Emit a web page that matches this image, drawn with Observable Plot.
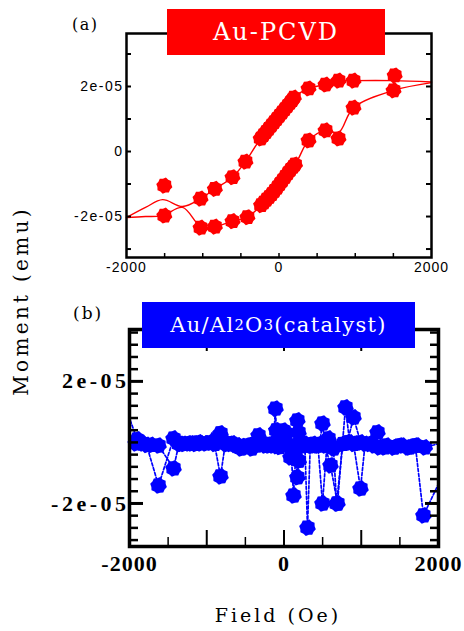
<!DOCTYPE html>
<html><head><meta charset="utf-8">
<script src="https://cdn.jsdelivr.net/npm/d3@7"></script>
<script src="https://cdn.jsdelivr.net/npm/@observablehq/plot@0.6"></script>
<style>
body{margin:0;background:#fff;}
#root{position:relative;width:464px;height:631px;overflow:hidden;background:#fff;}
#root svg{position:absolute;left:0;background:transparent;}
.t{position:absolute;white-space:nowrap;line-height:1;font-family:"DejaVu Serif",serif;color:#000;}
.banner{position:absolute;display:flex;align-items:center;justify-content:center;color:#fff;font-family:"DejaVu Serif",serif;white-space:nowrap;line-height:1;}
#pa g[aria-label="y-axis tick label"] text{letter-spacing:1.5px;}
#pa g[aria-label="x-axis tick label"] text{letter-spacing:1px;}
#pb g[aria-label="y-axis tick label"] text{letter-spacing:3.5px;}
#pb g[aria-label="x-axis tick label"] text{letter-spacing:1px;}
</style></head><body><div id="root"></div>
<script>
// ---------- Panel (a): Au-PCVD ----------
const aUpField  = [1517, 977, 780, 610, 387, 195, 175, 145, 110, 75, 40, 5, -30, -65, -100, -135, -170, -205, -240, -440, -610, -841, -1029, -1504];
const aUpMoment = [2.34e-5, 2.18e-5, 2.18e-5, 2.06e-5, 1.94e-5, 1.66e-5, 1.58e-5, 1.50e-5, 1.40e-5, 1.30e-5, 1.20e-5, 1.10e-5, 1.00e-5, 0.90e-5, 0.80e-5, 0.70e-5, 0.60e-5, 0.50e-5, 0.40e-5, -0.31e-5, -0.79e-5, -1.15e-5, -1.45e-5, -1.05e-5];
const aLowField  = [-1504, -1029, -841, -610, -414, -235, -200, -165, -130, -95, -60, -25, 10, 45, 80, 115, 150, 185, 210, 387, 610, 780, 977, 1502];
const aLowMoment = [-1.97e-5, -2.34e-5, -2.31e-5, -2.14e-5, -2.02e-5, -1.65e-5, -1.57e-5, -1.48e-5, -1.40e-5, -1.31e-5, -1.21e-5, -1.11e-5, -1.00e-5, -0.89e-5, -0.78e-5, -0.67e-5, -0.56e-5, -0.47e-5, -0.40e-5, 0.34e-5, 0.65e-5, 0.40e-5, 1.35e-5, 1.88e-5];
// fitted curves
const aFitUpField  = [2000, 1500, 977, 780, 610, 387, 195, -240, -440, -610, -841, -1029, -1265, -1527, -1750, -2000];
const aFitUpMoment = [2.14e-5, 2.18e-5, 2.18e-5, 2.17e-5, 2.06e-5, 1.94e-5, 1.66e-5, 0.40e-5, -0.31e-5, -0.79e-5, -1.15e-5, -1.45e-5, -1.69e-5, -1.48e-5, -1.72e-5, -2.03e-5];
const aFitLowField  = [-2000, -1750, -1527, -1265, -1029, -841, -610, -414, -235, 210, 387, 610, 780, 977, 1502, 2000];
const aFitLowMoment = [-2.03e-5, -2.0e-5, -1.97e-5, -1.72e-5, -2.30e-5, -2.31e-5, -2.14e-5, -2.02e-5, -1.65e-5, -0.40e-5, 0.34e-5, 0.65e-5, 0.58e-5, 1.35e-5, 1.88e-5, 2.12e-5];
const aXTicks = [-2000, 0, 2000];
const aXLabels = ["-2000", "0", "2000"];
const aXMinor = [-1500, -1000, -500, 0, 500, 1000, 1500];
const aYTicks = [-2e-5, 0, 2e-5];
const aYLabels = ["-2e-05", "0", "2e-05"];
const aYMinor = [-3e-5, -2e-5, -1e-5, 0, 1e-5, 2e-5, 3e-5];

// ---------- Panel (b): Au/Al2O3 (catalyst) ----------
const bS1Field  = [-1990, -1900, -1860, -1780, -1624, -1430, -1340, -1236, -1150, -1080, -1016, -900, -822, -760, -666, -600, -560, -500, -470, -420, -380, -330, -290, -250, -210, -170, -140, -110, -100, -60, -6, 30, 60, 90, 123, 150, 173, 188, 210, 240, 270, 304, 340, 380, 420, 460, 498, 530, 602, 692, 796, 850, 900, 990, 1050, 1210, 1300, 1417, 1500, 1598, 1700, 1805, 1990];
const bS1Moment = [0.72e-5, 0.10e-5, 0.00e-5, -0.08e-5, -1.41e-5, 0.13e-5, -0.05e-5, -0.03e-5, -0.05e-5, -0.03e-5, -0.03e-5, -0.05e-5, -1.11e-5, -0.05e-5, -0.03e-5, -0.10e-5, -0.20e-5, -0.15e-5, -0.10e-5, -0.08e-5, -0.05e-5, 0.23e-5, -0.05e-5, -0.10e-5, -0.08e-5, -0.05e-5, -0.08e-5, 1.11e-5, 0.40e-5, -0.05e-5, 0.39e-5, -0.05e-5, -0.10e-5, -0.15e-5, -1.74e-5, -0.50e-5, 0.72e-5, 0.33e-5, -0.05e-5, -0.10e-5, -0.05e-5, -2.79e-5, -0.10e-5, -0.05e-5, -0.10e-5, -0.05e-5, 0.62e-5, -0.10e-5, -0.75e-5, -2.00e-5, 1.15e-5, 0.00e-5, -0.05e-5, -1.51e-5, -0.05e-5, 0.33e-5, -0.16e-5, -0.16e-5, -0.10e-5, -0.16e-5, -0.10e-5, -2.39e-5, -1.41e-5];
const bS2Field  = [-1990, -1920, -1831, -1720, -1624, -1430, -1360, -1300, -1200, -1100, -960, -880, -822, -740, -700, -640, -600, -540, -500, -420, -360, -300, -240, -200, -150, -100, -60, -20, 30, 84, 130, 173, 190, 230, 280, 330, 380, 440, 498, 560, 576, 640, 681, 760, 820, 900, 992, 1100, 1160, 1230, 1330, 1420, 1530, 1620, 1720, 1822, 1990];
const bS2Moment = [-0.05e-5, -0.03e-5, -0.03e-5, -0.08e-5, -0.10e-5, -0.85e-5, -0.05e-5, -0.05e-5, -0.03e-5, 0.00e-5, 0.00e-5, 0.10e-5, 0.30e-5, -0.05e-5, -0.05e-5, -0.08e-5, -0.10e-5, -0.12e-5, -0.15e-5, -0.20e-5, -0.10e-5, -0.05e-5, -0.08e-5, -0.10e-5, -0.10e-5, -0.12e-5, -0.15e-5, -0.05e-5, 0.30e-5, -0.49e-5, -0.10e-5, -1.14e-5, -0.60e-5, 0.00e-5, -0.10e-5, -0.08e-5, -0.10e-5, -0.10e-5, -2.00e-5, 0.05e-5, 0.13e-5, -0.20e-5, -2.00e-5, -0.05e-5, 0.00e-5, 0.82e-5, 0.00e-5, -0.05e-5, -0.10e-5, -0.16e-5, -0.10e-5, -0.16e-5, -0.10e-5, -0.16e-5, -0.10e-5, -0.16e-5, -0.05e-5];
const bXTicks = [-2000, 0, 2000];
const bXLabels = ["-2000", "0", "2000"];
const bXMajor = [-2000, -1000, 0, 1000, 2000];
const bXMinor = [-1500, -500, 500, 1500];
const bYTicks = [-2e-5, 2e-5];
const bYLabels = ["-2e-05", "2e-05"];
const bYMinor = [-3.2e-5, -2.8e-5, -2.4e-5, -1.6e-5, -1.2e-5, -0.8e-5, -0.4e-5, 0, 0.4e-5, 0.8e-5, 1.2e-5, 1.6e-5, 2.4e-5, 2.8e-5, 3.2e-5, 3.6e-5];

// ---------- helpers ----------
const blob = {draw(ctx, size) {
  const r = Math.sqrt(size / Math.PI), n = 16;
  for (let k = 0; k < n; k++) {
    const a = k * 2 * Math.PI / n + Math.PI / 16, rr = k % 2 ? r * 0.86 : r;
    const px = rr * Math.cos(a), py = rr * Math.sin(a);
    k ? ctx.lineTo(px, py) : ctx.moveTo(px, py);
  }
  ctx.closePath();
}};
const zip = (xs, ys) => xs.map((x, i) => ({x, y: ys[i]}));
const fmt = (ticks, labels) => d => labels[ticks.findIndex(t => Math.abs(t - d) < 1e-12)] ?? "";
// inward-pointing ticks of length len (px), drawn as tick marks inset from the far side of the frame
function inTicks(anchor, ticks, len, sw, W, H) {
  const o = {stroke: "#000", strokeWidth: sw};
  if (anchor === "left") return Plot.tickY(ticks, {...o, y: d => d, insetRight: W - len});
  if (anchor === "right") return Plot.tickY(ticks, {...o, y: d => d, insetLeft: W - len});
  if (anchor === "bottom") return Plot.tickX(ticks, {...o, x: d => d, insetTop: H - len});
  return Plot.tickX(ticks, {...o, x: d => d, insetBottom: H - len});
}

const root = document.getElementById("root");

// ---------- Plot (a) ----------
const RED = "#ff0000";
const A = {width: 464, height: 282, ml: 126, mr: 33, mt: 33, mb: 25};
const AW = A.width - A.ml - A.mr, AH = A.height - A.mt - A.mb;
const pa = Plot.plot({
  width: A.width, height: A.height,
  marginLeft: A.ml, marginRight: A.mr, marginTop: A.mt, marginBottom: A.mb,
  x: {domain: [-2000, 2000]},
  y: {domain: [-3.26e-5, 3.63e-5]},
  style: {fontFamily: "Liberation Sans", fontSize: "14px", color: "#000", background: "transparent", overflow: "visible"},
  marks: [
    Plot.line(zip(aFitUpField, aFitUpMoment), {x: "x", y: "y", stroke: RED, strokeWidth: 1.4, curve: "catmull-rom"}),
    Plot.line(zip(aFitLowField, aFitLowMoment), {x: "x", y: "y", stroke: RED, strokeWidth: 1.4, curve: "catmull-rom"}),
    Plot.dot(zip(aUpField, aUpMoment), {x: "x", y: "y", r: 8.2, symbol: blob, fill: RED}),
    Plot.dot(zip(aLowField, aLowMoment), {x: "x", y: "y", r: 8.2, symbol: blob, fill: RED}),
    inTicks("left", aYMinor, 5, 2, AW, AH),
    inTicks("right", aYMinor, 5, 2, AW, AH),
    inTicks("bottom", aXMinor, 4, 1.5, AW, AH),
    Plot.axisY({anchor: "left", ticks: aYTicks, tickSize: 0, tickPadding: 3, tickFormat: fmt(aYTicks, aYLabels), fontSize: 14, label: null}),
    Plot.axisX({anchor: "bottom", ticks: aXTicks, tickSize: 0, tickPadding: 5, tickFormat: fmt(aXTicks, aXLabels), fontSize: 14, label: null}),
    Plot.frame({stroke: "#000", strokeWidth: 2.5})
  ]
});
pa.id = "pa";
pa.style.top = "0px";
root.appendChild(pa);

// ---------- Plot (b) ----------
const BLUE = "#0000ff";
const B = {width: 464, height: 290, ml: 129, mr: 26, mt: 29, mb: 44};
const BW = B.width - B.ml - B.mr, BH = B.height - B.mt - B.mb;
const pb = Plot.plot({
  width: B.width, height: B.height,
  marginLeft: B.ml, marginRight: B.mr, marginTop: B.mt, marginBottom: B.mb,
  x: {domain: [-2000, 2000]},
  y: {domain: [-3.41e-5, 3.70e-5]},
  style: {fontFamily: "Liberation Serif", fontSize: "22px", fontWeight: "bold", color: "#000", background: "transparent", overflow: "visible"},
  marks: [
    Plot.line(zip(bS1Field, bS1Moment), {x: "x", y: "y", stroke: BLUE, strokeWidth: 1.7, strokeDasharray: "3,2"}),
    Plot.line(zip(bS2Field, bS2Moment), {x: "x", y: "y", stroke: BLUE, strokeWidth: 1.7, strokeDasharray: "3,2"}),
    Plot.dot(zip(bS1Field, bS1Moment).filter(d => Math.abs(d.x) < 1950), {x: "x", y: "y", r: 8.5, symbol: blob, fill: BLUE}),
    Plot.dot(zip(bS2Field, bS2Moment).filter(d => Math.abs(d.x) < 1950), {x: "x", y: "y", r: 8.5, symbol: blob, fill: BLUE}),
    inTicks("left", bYMinor, 9, 2.5, BW, BH),
    inTicks("left", bYTicks, 14, 3, BW, BH),
    inTicks("right", bYMinor, 8, 2.5, BW, BH),
    inTicks("right", bYTicks, 13, 3, BW, BH),
    inTicks("bottom", bXMinor, 9, 1.5, BW, BH),
    inTicks("bottom", bXMajor, 16, 2, BW, BH),
    inTicks("top", bXMajor, 22, 2, BW, BH),
    Plot.axisY({anchor: "left", ticks: bYTicks, tickSize: 0, tickPadding: 0, tickFormat: fmt(bYTicks, bYLabels), fontSize: 22, fontWeight: "bold", label: null}),
    Plot.axisX({anchor: "bottom", ticks: bXTicks, tickSize: 0, tickPadding: 9, tickFormat: fmt(bXTicks, bXLabels), fontSize: 22, fontWeight: "bold", label: null}),
    Plot.frame({stroke: "#000", strokeWidth: 3.5})
  ]
});
pb.id = "pb";
pb.style.top = "300px";
root.appendChild(pb);

// ---------- texts and banners ----------
function addText(html, cls, css) {
  const d = document.createElement("div");
  d.className = cls; d.innerHTML = html;
  Object.assign(d.style, css);
  root.appendChild(d);
  return d;
}
addText("Au-PCVD", "banner", {left: "167px", top: "9px", width: "218px", height: "46px", background: RED, fontSize: "24px", letterSpacing: "2px"});
addText("Au/Al<sub style='font-size:0.7em;vertical-align:-0.3em'>2</sub>O<sub style='font-size:0.7em;vertical-align:-0.3em'>3</sub>(catalyst)", "banner",
  {left: "142px", top: "302px", width: "273px", height: "46px", background: BLUE, fontSize: "21px", letterSpacing: "1.3px"});
addText("(a)", "t", {left: "72px", top: "17px", fontSize: "16px", letterSpacing: "1.5px"});
addText("(b)", "t", {left: "73px", top: "305px", fontSize: "17px", letterSpacing: "2px"});
addText("Field (Oe)", "t", {left: "278px", top: "606px", fontSize: "19px", letterSpacing: "3px", transform: "translateX(-50%)"});
addText("Moment (emu)", "t", {left: "21px", top: "301px", fontSize: "20px", letterSpacing: "3.3px", transform: "translate(-50%,-50%) rotate(-90deg)"});
</script></body></html>
